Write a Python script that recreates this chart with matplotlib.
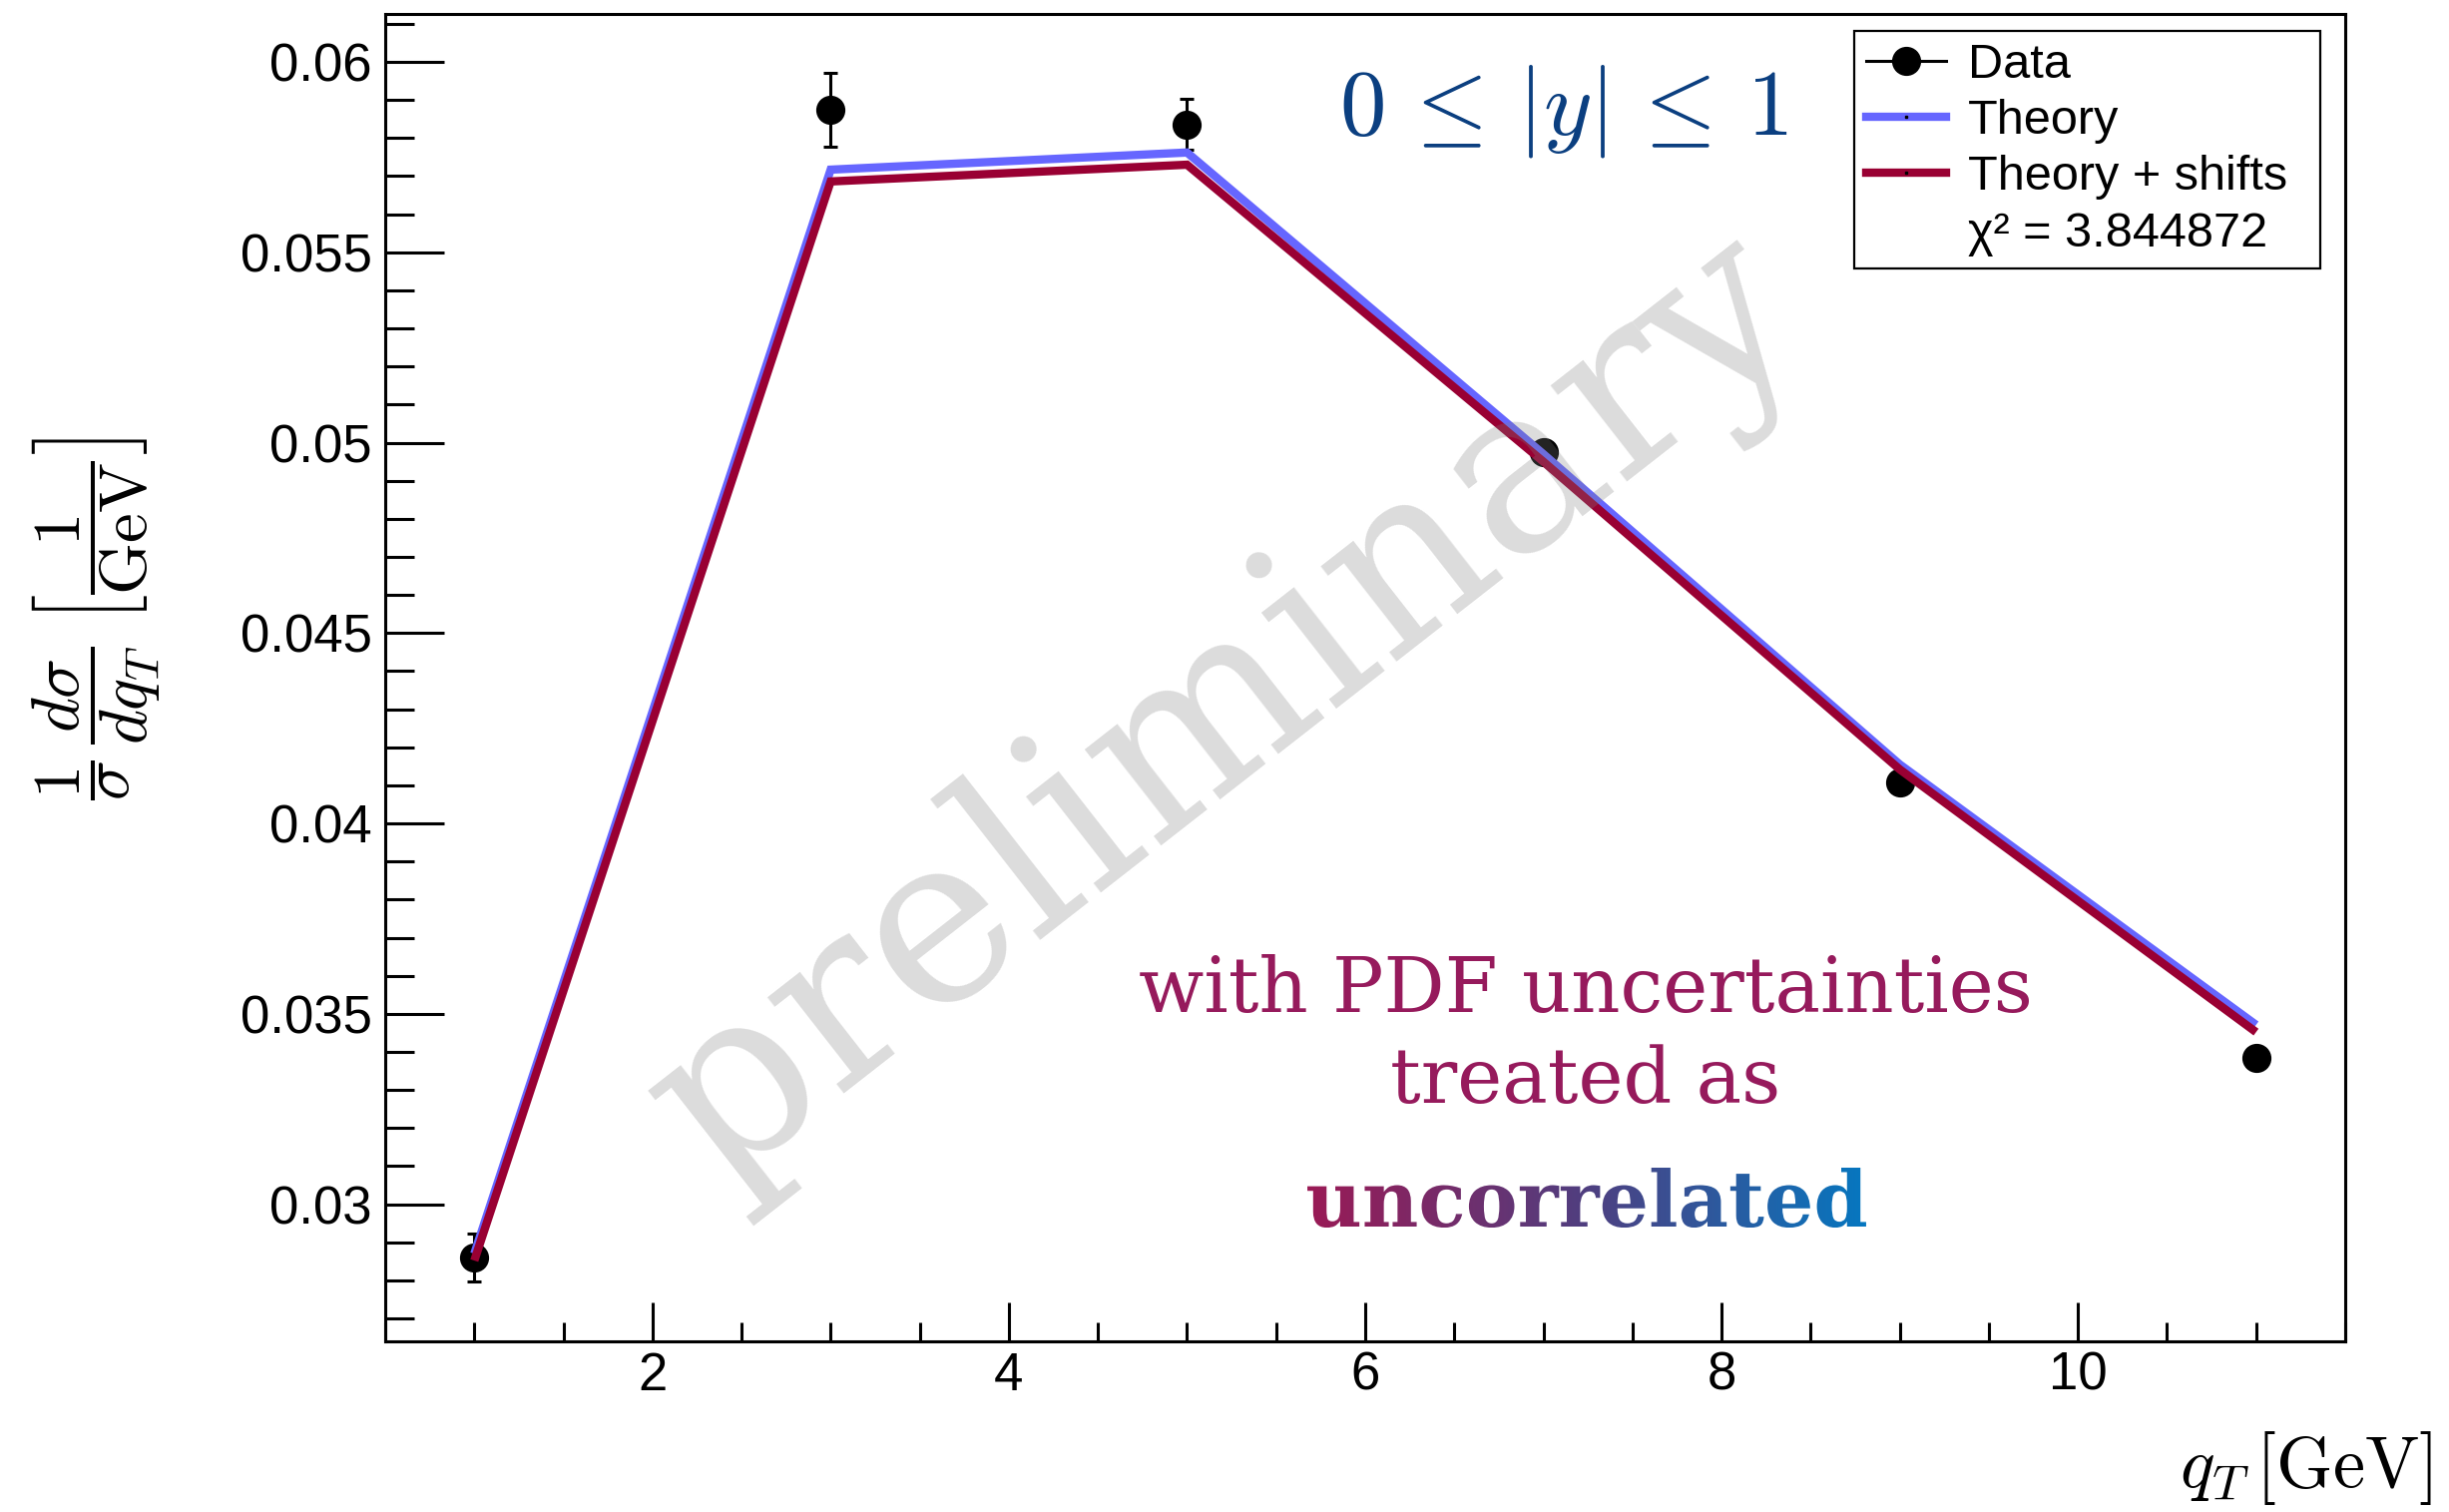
import numpy as np
import matplotlib
matplotlib.use("Agg")
import matplotlib.pyplot as plt
from matplotlib.lines import Line2D
from matplotlib.ticker import FixedLocator, MultipleLocator
from matplotlib.textpath import TextPath
from matplotlib.font_manager import FontProperties
from matplotlib.patches import PathPatch
from matplotlib.colors import LinearSegmentedColormap
import matplotlib.transforms as mtransforms

# ---- values -------------------------------------------------------------
qt = [1, 3, 5, 7, 9, 11]
data = [0.02861, 0.05874, 0.05836, 0.04975, 0.04108, 0.03385]
data_err = [0.00063, 0.00096, 0.00066, 0.00022, 0.00020, 0.00020]
theory = [0.02870, 0.05717, 0.05762, 0.04970, 0.04155, 0.03471]
theory_shifted = [0.02852, 0.05686, 0.05730, 0.04950, 0.04142, 0.03452]
chi2 = 3.844872

xticks = [2, 4, 6, 8, 10]
xtick_labels = ["2", "4", "6", "8", "10"]
yticks = [0.03, 0.035, 0.04, 0.045, 0.05, 0.055, 0.06]
ytick_labels = ["0.03", "0.035", "0.04", "0.045", "0.05", "0.055", "0.06"]

# ---- style --------------------------------------------------------------
plt.rcParams["mathtext.fontset"] = "cm"
plt.rcParams["font.family"] = ["Liberation Sans", "DejaVu Sans"]

W, H, DPI = 24.54, 15.15, 100
fig = plt.figure(figsize=(W, H), dpi=DPI)
ax = fig.add_axes([0.1573, 0.1129, 0.8003, 0.8779])

BLUE = "#6666ff"
RED = "#990033"

ax.errorbar(qt, data, yerr=data_err, fmt="o", color="k", ms=20,
            elinewidth=2.2, capsize=5, capthick=2.2, zorder=2)
ax.plot(qt, theory, color=BLUE, lw=6, solid_capstyle="butt",
        solid_joinstyle="miter", zorder=3)
ax.plot(qt, theory_shifted, color=RED, lw=6, solid_capstyle="butt",
        solid_joinstyle="miter", zorder=4)

ax.set_xlim(0.5, 11.5)
ax.set_ylim(0.0264, 0.06126)
ax.xaxis.set_major_locator(FixedLocator(xticks))
ax.set_xticklabels(xtick_labels)
ax.yaxis.set_major_locator(FixedLocator(yticks))
ax.set_yticklabels(ytick_labels)
ax.xaxis.set_minor_locator(MultipleLocator(0.5))
ax.yaxis.set_minor_locator(MultipleLocator(0.001))

ax.tick_params(which="both", direction="in", top=False, right=False, width=2.2)
ax.tick_params(axis="y", which="major", length=42.5, pad=9.5, labelsize=38)
ax.tick_params(axis="y", which="minor", length=21)
ax.tick_params(axis="x", which="major", length=28, pad=7, labelsize=38)
ax.tick_params(axis="x", which="minor", length=14)
for sp in ax.spines.values():
    sp.set_linewidth(2.2)

# ---- legend -------------------------------------------------------------
handles = [
    Line2D([], [], color="k", marker="o", ms=20, lw=2.2),
    Line2D([], [], color=BLUE, lw=6, marker="s", ms=2, mfc="k", mec="k"),
    Line2D([], [], color=RED, lw=6, marker="s", ms=2, mfc="k", mec="k"),
    Line2D([], [], color="none"),
]
labels = ["Data", "Theory", "Theory + shifts", f"χ² = {chi2:.6f}"]
leg = ax.legend(handles, labels, loc="upper left", mode="expand",
                bbox_to_anchor=(0.7495, 0.0, 0.2378, 0.9872), borderaxespad=0,
                prop=FontProperties(family="Liberation Sans", size=35),
                handlelength=1.64, handletextpad=0.45, labelspacing=0.23,
                borderpad=0.25, fancybox=False, framealpha=1,
                edgecolor="k")
leg.get_frame().set_linewidth(1.6)

# ---- annotations --------------------------------------------------------
fig.text(1567 / 2454, 1 - 135 / 1515, r"$0\,\leq\,|y|\,\leq\,1$",
         color="#0b3f80", fontsize=67, ha="center", va="baseline")

fig.text(1589 / 2454, 1 - 1014 / 1515, "with PDF uncertainties",
         family="DejaVu Serif", color="#961a5c", fontsize=55,
         ha="center", va="baseline")
fig.text(1589 / 2454, 1 - 1105 / 1515, "treated as",
         family="DejaVu Serif", color="#961a5c", fontsize=55,
         ha="center", va="baseline")


def gradient_word(word, fx, fy, size, colors):
    """Draw `word` centred at figure fraction fx with baseline fy,
    filled with a left-to-right colour gradient."""
    fp = FontProperties(family="DejaVu Serif", weight="bold")
    tp = TextPath((0, 0), word, size=size, prop=fp)
    bb = tp.get_extents()
    sx, sy = 1 / 72 / W, 1 / 72 / H
    cx = (bb.x0 + bb.x1) / 2
    tr = (mtransforms.Affine2D().translate(-cx, 0).scale(sx, sy)
          .translate(fx, fy) + fig.transFigure)
    patch = PathPatch(tp, transform=tr, facecolor="none", edgecolor="none")
    x0 = fx + (bb.x0 - cx) * sx
    x1 = fx + (bb.x1 - cx) * sx
    y0 = fy + bb.y0 * sy
    y1 = fy + bb.y1 * sy
    gax = fig.add_axes([x0, y0, x1 - x0, y1 - y0])
    gax.set_axis_off()
    cmap = LinearSegmentedColormap.from_list("grad", colors)
    grad = np.linspace(0, 1, 512)[None, :]
    im = gax.imshow(grad, cmap=cmap, aspect="auto", extent=(0, 1, 0, 1))
    gax.set_xlim(0, 1)
    gax.set_ylim(0, 1)
    im.set_clip_path(patch)


gradient_word("uncorrelated", 1590 / 2454, 1 - 1229 / 1515, 56,
              ["#9a1a55", "#4f3f80", "#0677c0"])

ax.text(0.429, 0.476, "preliminary", transform=ax.transAxes, rotation=38,
        rotation_mode="anchor", ha="center", va="center", fontsize=170,
        family="DejaVu Serif", color="#808080", alpha=0.28, zorder=10)

# ---- axis titles --------------------------------------------------------
fig.text(97 / 2454, 1 - 620 / 1515,
         r"$\dfrac{1}{\sigma}\,\dfrac{d\sigma}{dq_T}\;\left[\dfrac{1}{\mathrm{GeV}}\right]$",
         rotation=90, ha="center", va="center", fontsize=48)
fig.text(2437 / 2454, 1 - 1490 / 1515, r"$q_T\,[\mathrm{GeV}]$",
         ha="right", va="baseline", fontsize=52)

fig.savefig("out.png", dpi=DPI)
